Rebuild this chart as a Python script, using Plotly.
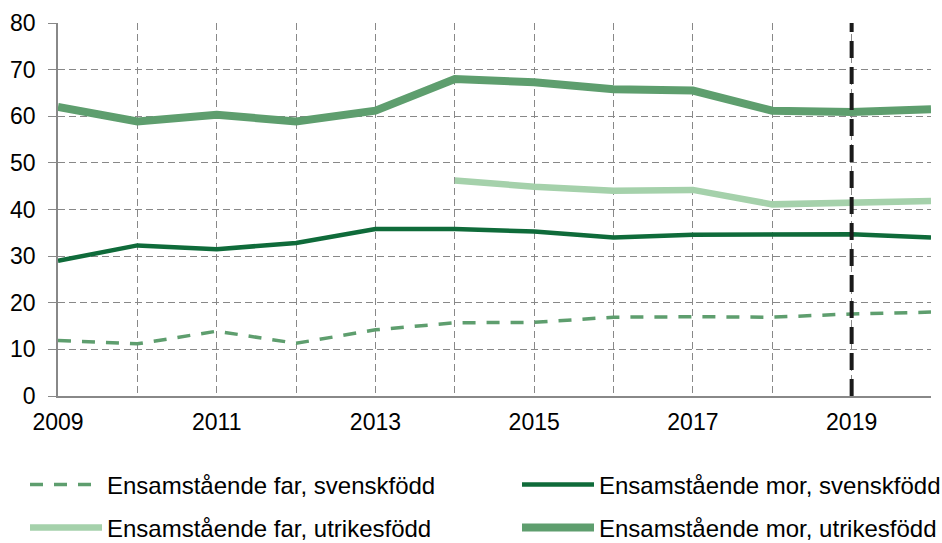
import plotly.graph_objects as go

years = list(range(2009, 2021))
far_svensk = [11.9, 11.2, 13.9, 11.3, 14.2, 15.7, 15.8, 16.9, 17.0, 16.9, 17.6, 18.0]
mor_svensk = [29.0, 32.3, 31.5, 32.8, 35.8, 35.8, 35.3, 34.0, 34.6, 34.7, 34.7, 34.0]
far_utrikes = [None, None, None, None, None, 46.2, 44.9, 44.0, 44.2, 41.1, 41.6, 41.8]
mor_utrikes = [62.0, 58.9, 60.3, 58.9, 61.2, 68.0, 67.3, 65.8, 65.5, 61.2, 60.9, 61.5]

names = ["Ensamstående far, svenskfödd", "Ensamstående mor, svenskfödd",
         "Ensamstående far, utrikesfödd", "Ensamstående mor, utrikesfödd"]
marker_year = 2019

FONT = "Arial, Liberation Sans, sans-serif"
GRID = "#888888"

fig = go.Figure()
fig.add_trace(go.Scatter(x=years, y=far_svensk, mode="lines", name=names[0],
                         line=dict(color="#5e9e6e", width=3.5, dash="13px,11px"),
                         legend="legend", showlegend=True))
fig.add_trace(go.Scatter(x=years, y=mor_svensk, mode="lines", name=names[1],
                         line=dict(color="#0f6b3a", width=4.5), legend="legend2",
                         showlegend=True))
fig.add_trace(go.Scatter(x=years, y=far_utrikes, mode="lines", name=names[2],
                         line=dict(color="#a5d1ab", width=6.5), legend="legend3",
                         showlegend=True))
fig.add_trace(go.Scatter(x=years, y=mor_utrikes, mode="lines", name=names[3],
                         line=dict(color="#5e9e6e", width=8), legend="legend4",
                         showlegend=True))

fig.add_shape(type="line", xref="x", yref="y", x0=marker_year, x1=marker_year, y0=0, y1=80,
              line=dict(color="#1a1a1a", width=4, dash="17px,9px"))

leg_common = dict(orientation="v", xanchor="left", yanchor="middle",
                  xref="container", yref="container", visible=True,
                  font=dict(family=FONT, size=24, color="#000"),
                  bgcolor="rgba(0,0,0,0)", itemwidth=72)
W, H = 942, 543
col_x = [25 / W, 517 / W]
row_y = [1 - 485 / H, 1 - 528 / H]

fig.update_layout(
    width=W, height=H, showlegend=True,
    margin=dict(l=58, r=11, t=23, b=147, autoexpand=False),
    plot_bgcolor="white", paper_bgcolor="white",
    font=dict(family=FONT, size=23, color="#000"),
    xaxis=dict(range=[2009, 2020], tick0=2009, dtick=2, showline=True, linecolor=GRID,
               linewidth=1.5, showgrid=True, gridcolor=GRID, gridwidth=1.4, griddash="7px,4px",
               ticks="", ticklabelstandoff=5,
               minor=dict(dtick=1, tick0=2009, showgrid=True, gridcolor=GRID, gridwidth=1.4,
                          griddash="7px,4px"),
               zeroline=False, fixedrange=True, automargin=False),
    yaxis=dict(range=[0, 80], dtick=10, showline=True, linecolor=GRID, linewidth=1.5,
               showgrid=True, gridcolor=GRID, gridwidth=1.4, griddash="7px,4px",
               ticks="outside", ticklen=8, tickcolor=GRID, tickwidth=1.4,
               ticklabelstandoff=8, zeroline=False, fixedrange=True, automargin=False),
    legend=dict(x=col_x[0], y=row_y[0], **leg_common),
    legend2=dict(x=col_x[1], y=row_y[0], **leg_common),
    legend3=dict(x=col_x[0], y=row_y[1], **leg_common),
    legend4=dict(x=col_x[1], y=row_y[1], **leg_common),
)

fig.write_html("out.html", config={"displayModeBar": False},
               post_script="document.body.style.margin='0px';")
